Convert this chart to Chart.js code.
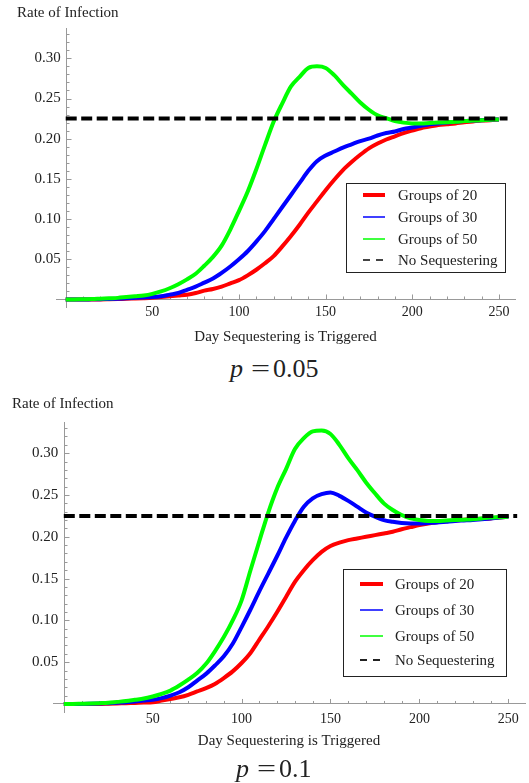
<!DOCTYPE html>
<html><head><meta charset="utf-8">
<script src="https://cdn.jsdelivr.net/npm/chart.js@4.4.0/dist/chart.umd.min.js"></script>
<style>
html,body{margin:0;padding:0;background:#fff;}
#wrap{position:relative;width:529px;height:783px;overflow:hidden;}
canvas{position:absolute;left:0;}
#c1{top:0;} #c2{top:390px;}
.cap{position:absolute;font-family:'Liberation Serif',serif;font-size:26px;line-height:26px;color:#222;white-space:nowrap;}
.cap .pv{display:inline-block;width:21px;font-style:italic;}
.cap .eq{display:inline-block;width:22px;}
.cap .eq span{display:inline-block;transform:scaleX(1.3);transform-origin:left center;}
</style></head>
<body><div id="wrap">
<canvas id="c1" width="529" height="350"></canvas>
<div class="cap" style="top:356px;left:230px"><span class="pv">p</span><span class="eq"><span>=</span></span>0.05</div>
<canvas id="c2" width="529" height="365"></canvas>
<div class="cap" style="top:756px;left:236px"><span class="pv">p</span><span class="eq"><span>=</span></span>0.1</div>
</div>
<script>
// ---- data ----
const days = [0,5,10,15,20,25,30,35,40,45,50,55,60,65,70,75,80,85,90,95,100,105,110,115,120,125,130,135,140,145,150,155,160,165,170,175,180,185,190,195,200,205,210,215,220,225,230,235,240,245,250];
const seriesNames = ['Groups of 20','Groups of 30','Groups of 50','No Sequestering'];
const noSeqDays = [0,255];
const noSeqRate = [0.225,0.225];
const xTickValues = [50,100,150,200,250];
const yTickValues = [0.05,0.10,0.15,0.20,0.25,0.30];

// p = 0.05
const p05_groups20 = [0,0,0,0,0,0.0002,0.0005,0.001,0.0012,0.0015,0.002,0.003,0.004,0.005,0.006,0.008,0.011,0.013,0.016,0.020,0.024,0.030,0.037,0.045,0.054,0.066,0.079,0.093,0.108,0.122,0.136,0.149,0.161,0.171,0.180,0.188,0.194,0.199,0.203,0.207,0.210,0.213,0.215,0.217,0.218,0.219,0.2205,0.2215,0.2225,0.223,0.224];
const p05_groups30 = [0,0,0,0.0002,0.0004,0.0006,0.001,0.0015,0.002,0.0025,0.003,0.004,0.006,0.008,0.012,0.016,0.021,0.026,0.033,0.041,0.050,0.060,0.072,0.085,0.100,0.115,0.130,0.145,0.160,0.172,0.179,0.184,0.189,0.193,0.197,0.200,0.204,0.207,0.209,0.212,0.214,0.216,0.218,0.219,0.220,0.221,0.222,0.2225,0.223,0.2235,0.224];
const p05_groups50 = [0,0,0.0003,0.0005,0.001,0.0015,0.002,0.003,0.004,0.005,0.007,0.010,0.014,0.019,0.025,0.032,0.042,0.053,0.067,0.087,0.110,0.134,0.162,0.192,0.221,0.244,0.265,0.277,0.288,0.290,0.288,0.279,0.267,0.256,0.245,0.236,0.229,0.2255,0.222,0.220,0.219,0.219,0.2195,0.220,0.2205,0.221,0.222,0.2225,0.223,0.2235,0.224];

// p = 0.1
const p10_groups20 = [0,0,0,0,0,0.0002,0.0005,0.001,0.0013,0.0017,0.002,0.004,0.006,0.008,0.011,0.015,0.019,0.024,0.031,0.039,0.049,0.061,0.077,0.093,0.110,0.128,0.146,0.160,0.172,0.182,0.189,0.193,0.196,0.198,0.200,0.202,0.204,0.206,0.209,0.2115,0.214,0.216,0.2175,0.2185,0.2195,0.2205,0.221,0.2215,0.222,0.223,0.224];
const p10_groups30 = [0,0,0,0.0002,0.0005,0.001,0.0015,0.002,0.003,0.004,0.005,0.007,0.010,0.014,0.020,0.028,0.036,0.046,0.057,0.072,0.092,0.113,0.135,0.156,0.177,0.199,0.219,0.236,0.246,0.251,0.253,0.249,0.243,0.236,0.229,0.224,0.220,0.218,0.2165,0.216,0.216,0.2165,0.217,0.218,0.219,0.2195,0.220,0.221,0.222,0.223,0.224];
const p10_groups50 = [0,0,0.0003,0.0006,0.001,0.0015,0.0025,0.0035,0.005,0.0065,0.009,0.012,0.016,0.022,0.029,0.037,0.048,0.063,0.080,0.100,0.124,0.160,0.195,0.229,0.258,0.281,0.305,0.318,0.326,0.327,0.323,0.310,0.294,0.280,0.265,0.252,0.240,0.232,0.226,0.222,0.220,0.219,0.219,0.2195,0.220,0.2205,0.221,0.222,0.223,0.2235,0.224];

// ---- drawing ----
const FONT = "'Liberation Serif', 'Times New Roman', serif";
const pts = (xs, ys) => xs.map((d, i) => ({x: d, y: ys[i]}));

const decor = {
  id: 'decor',
  beforeDatasetsDraw(chart, args, o) {
    const {ctx, chartArea, scales: {x, y}} = chart;
    const x0 = Math.round(x.getPixelForValue(0)) + 0.5, y0 = y.getPixelForValue(0);
    ctx.save();
    ctx.strokeStyle = '#999'; ctx.lineWidth = 1;
    // vertical axis line at day 0
    ctx.beginPath(); ctx.moveTo(x0, chartArea.top); ctx.lineTo(x0, chartArea.bottom); ctx.stroke();
    for (let v = 10; v <= 250; v += 10) {
      const px = Math.round(x.getPixelForValue(v)) + 0.5;
      const len = (v % 50 === 0) ? 5 : 3;
      ctx.beginPath(); ctx.moveTo(px, y0); ctx.lineTo(px, y0 - len); ctx.stroke();
    }
    for (let k = 1; k <= 33; k++) {
      const py = Math.round(y.getPixelForValue(k / 100)) + 0.5;
      const len = (k % 5 === 0) ? 5 : 3;
      ctx.beginPath(); ctx.moveTo(x0, py); ctx.lineTo(x0 + len, py); ctx.stroke();
    }
    ctx.restore();
  },
  afterDraw(chart, args, o) {
    const {ctx} = chart;
    ctx.save();
    ctx.fillStyle = '#222';
    ctx.font = '15px ' + FONT;
    ctx.textBaseline = 'middle'; ctx.textAlign = 'left';
    ctx.fillText('Rate of Infection', o.yTitleX, o.yTitleY);
    // legend
    const L = o.legend;
    ctx.fillStyle = '#fff';
    ctx.fillRect(L.x, L.y, L.w, L.h);
    ctx.strokeStyle = '#222'; ctx.lineWidth = 1;
    ctx.strokeRect(L.x + 0.5, L.y + 0.5, L.w, L.h);
    chart.data.datasets.forEach((ds, i) => {
      const st = o.legendStyles[i];
      const ry = L.rows[i];
      ctx.save();
      ctx.strokeStyle = st.color; ctx.lineWidth = st.width;
      ctx.setLineDash(st.dash || []);
      ctx.beginPath(); ctx.moveTo(L.s0, ry); ctx.lineTo(L.s1, ry); ctx.stroke();
      ctx.restore();
      ctx.fillStyle = '#222';
      ctx.font = '15px ' + FONT;
      ctx.textBaseline = 'middle';
      ctx.fillText(ds.label, L.tx, ry + 1);
    });
    ctx.restore();
  }
};

function makeChart(id, r20, r30, r50, cfg) {
  return new Chart(document.getElementById(id), {
    type: 'line',
    data: {
      datasets: [
        {label: seriesNames[0], data: pts(days, r20), borderColor: '#ff0000', borderWidth: 4, order: 4},
        {label: seriesNames[1], data: pts(days, r30), borderColor: '#0000ff', borderWidth: 4, order: 3},
        {label: seriesNames[2], data: pts(days, r50), borderColor: '#00ff00', borderWidth: 4, order: 2},
        {label: seriesNames[3], data: pts(noSeqDays, noSeqRate), borderColor: '#000000', borderWidth: 4, borderDash: [11, 4.5], order: 1}
      ]
    },
    options: {
      responsive: false, animation: false, devicePixelRatio: 1,
      layout: {padding: cfg.padding},
      elements: {point: {radius: 0}, line: {cubicInterpolationMode: 'monotone', borderCapStyle: 'butt', borderJoinStyle: 'round'}},
      plugins: {
        legend: {display: false}, tooltip: {enabled: false},
        decor: cfg.decor
      },
      scales: {
        x: {
          type: 'linear', min: cfg.xmin, max: cfg.xmax, position: {y: 0},
          afterBuildTicks: s => { s.ticks = xTickValues.map(v => ({value: v})); },
          ticks: {autoSkip: false, maxRotation: 0, padding: cfg.xPad, color: '#222', font: {family: FONT, size: 14}, callback: v => String(v)},
          grid: {display: false, drawTicks: false},
          border: {display: true, color: '#999', width: 1},
          title: {display: true, text: 'Day Sequestering is Triggered', color: '#222', font: {family: FONT, size: 15}, padding: cfg.titlePad}
        },
        y: {
          type: 'linear', min: cfg.ymin, max: cfg.ymax, position: {x: cfg.yLabelAt},
          afterBuildTicks: s => { s.ticks = yTickValues.map(v => ({value: v})); },
          ticks: {autoSkip: false, padding: 0, color: '#222', font: {family: FONT, size: 15}, callback: v => v.toFixed(2)},
          grid: {display: false, drawTicks: false},
          border: {display: false}
        }
      }
    },
    plugins: [decor]
  });
}

makeChart('c1', p05_groups20, p05_groups30, p05_groups50, {
  padding: {left: 56, right: 14, top: 28, bottom: 42},
  xmin: -5.6, xmax: 259.3, ymin: -0.0106, ymax: 0.3377, xPad: 4, yLabelAt: -2.8,
  titlePad: {top: 4, bottom: 0},
  decor: {
    yTitleX: 17, yTitleY: 13,
    legend: {x: 346, y: 183, w: 159, h: 89, rows: [195, 217, 239, 260], s0: 363, s1: 385, tx: 398},
    legendStyles: [{color: '#ff0000', width: 4}, {color: '#0000ff', width: 1.5}, {color: '#00ff00', width: 1.5}, {color: '#444', width: 2, dash: [7, 6]}]
  }
});

makeChart('c2', p10_groups20, p10_groups30, p10_groups50, {
  padding: {left: 53, right: 4, top: 32, bottom: 42},
  xmin: -6.07, xmax: 259.4, ymin: -0.0108, ymax: 0.3373, xPad: 7, yLabelAt: -3.1,
  titlePad: {top: -3, bottom: 0},
  decor: {
    yTitleX: 12, yTitleY: 14,
    legend: {x: 343, y: 179, w: 163, h: 107, rows: [194, 220, 246, 270], s0: 360, s1: 383, tx: 395},
    legendStyles: [{color: '#ff0000', width: 4}, {color: '#0000ff', width: 1.5}, {color: '#00ff00', width: 1.5}, {color: '#222', width: 2, dash: [7, 6]}]
  }
});
</script>
</body></html>
